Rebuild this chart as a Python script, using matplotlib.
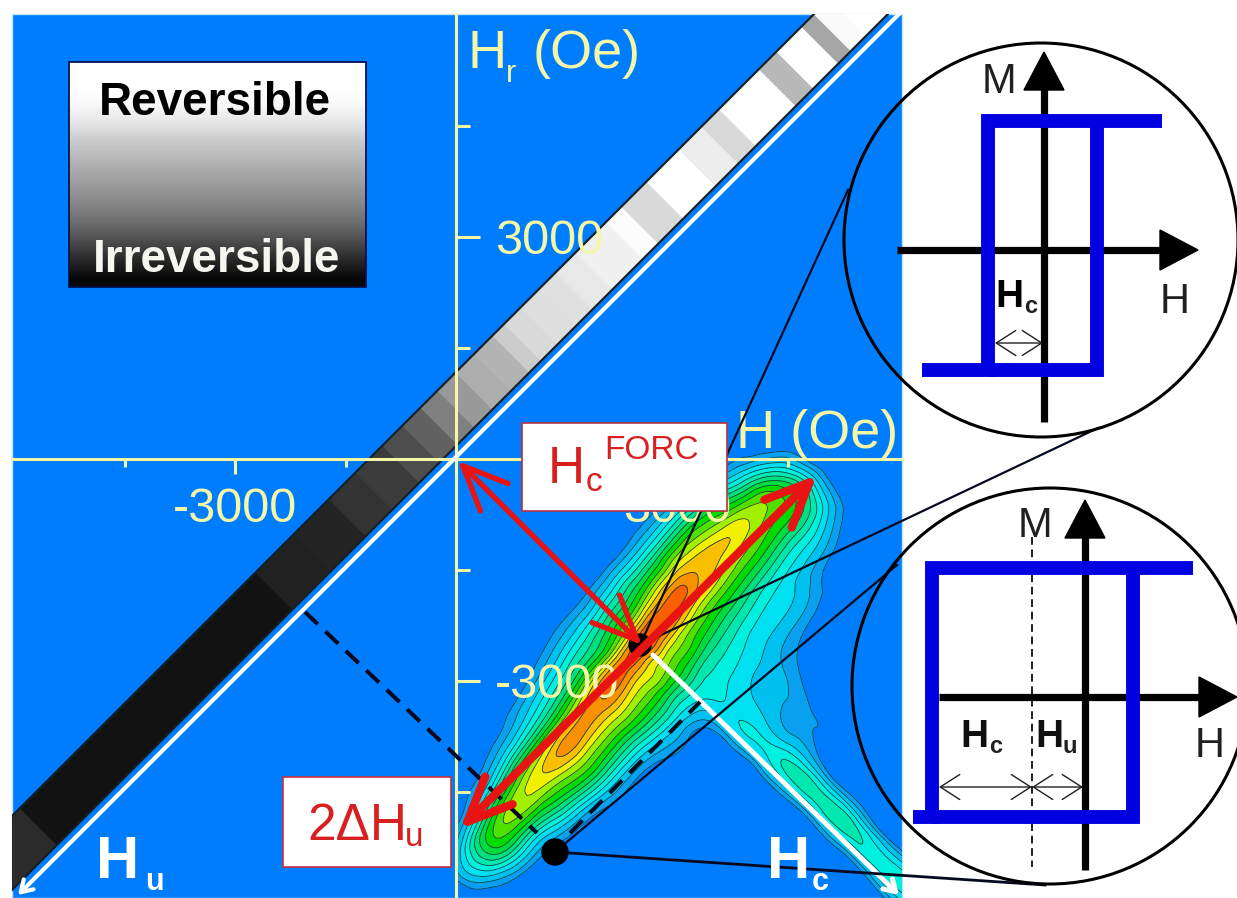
import matplotlib
matplotlib.use('Agg')
import matplotlib.pyplot as plt
import matplotlib.tri as mtri
from matplotlib.patches import Circle, Rectangle
import numpy as np

plt.rcParams['font.family'] = ['Liberation Sans', 'DejaVu Sans']

W, H = 1237, 898

# plot area and axis origin on the picture, in pixels
plot_left, plot_right, plot_top, plot_bottom = 12, 902, 14, 898
origin_x, origin_y = 456, 459
oe_per_px_x = 3000 / 221
oe_per_px_y = 3000 / 222

major_ticks = [-3000, 3000]
minor_ticks = [-4500, -1500, 1500, 4500]

# grey blocks of the reversible ridge, along x - y
strip_edges = [-900, -788, -317, -240, -170, -117, -63, -23, 13, 47, 83, 120, 157, 180, 213,
               250, 283, 323, 384, 415, 465, 530, 575, 610, 650, 690, 725, 775, 800, 830, 900]
strip_greys = [.17, .07, .13, .14, .2, .23, .3, .38, .5, .6, .68, .7, .8, .85, .87,
               .88, .91, .94, .99, .85, 1, .93, .85, 1, 1, .72, 1, .65, .98, 1]
strip_low, strip_high = 828, 902

# FORC distribution, on a grid turned 45 degrees
# a = x + y (across the ridge), b = x - y (along the ridge)
forc_a = [1150, 1180, 1210, 1240, 1265, 1287, 1310, 1335, 1365, 1395, 1425, 1470, 1530, 1600, 1680, 1760, 1840]
forc_b = [-430, -400, -350, -300, -240, -170, -100, -50, -20, 0, 25, 50, 90, 120, 190, 260, 310, 350, 380]
forc_z = [
    [0, 0, 0, 0, 0, 0, 0, 0, 0, 0, 0, 0, 0, 0, 0, 0, 0],
    [0, 0, 0, 0, 0, 0, 1.5, 3, 1.5, 0, 0, 0, 0, 0, 0, 0, 0],
    [0, 0, 0, 0, .2, 2, 6, 8, 5, .8, 0, 0, 0, 0, 0, 0, 0],
    [0, 0, 0, 0, 1.5, 5, 9, 9.5, 5, 1, 0, 0, 0, 0, 0, 0, 0],
    [0, 0, 0, 1, 4, 8, 11, 10, 6.5, 2, 0, 0, 0, 0, 0, 0, 0],
    [0, 0, .5, 3, 6, 10, 13, 11, 7.5, 3, .3, 0, 0, 0, 0, 0, 0],
    [0, .2, 2, 5, 8.5, 12.5, 13, 10.5, 7, 3, .5, 0, 0, 0, 0, 0, 0],
    [0, .5, 3, 6, 9.5, 13.5, 12.5, 10, 7, 3.5, .8, 0, 0, 0, 0, 0, 0],
    [0, .6, 3.5, 7, 10.5, 14, 12, 10, 6.5, 3.5, 1.2, .3, 0, 0, 0, 0, 0],
    [0, .8, 4, 7.5, 11.5, 14.5, 12, 9.5, 6.5, 3.8, 2.5, 2.5, 2.5, 2.5, 2.5, 2.5, 2],
    [0, 1, 4.5, 8, 12.5, 14.5, 11.5, 9, 6, 4, 3.5, 3.5, 4, 5, 5, 4, 3.5],
    [0, 1.2, 5, 9, 13, 14, 11, 8.5, 5.5, 4, 3, 2.5, 2, 1.5, 1.2, 1, .5],
    [0, 1.5, 5.5, 10, 13.5, 13, 10, 7.5, 5, 3.5, 2.5, 1.8, .8, 0, 0, 0, 0],
    [0, 1.8, 6, 10.5, 12.5, 12, 9.5, 7, 4.5, 3, 2, 1, 0, 0, 0, 0, 0],
    [0, 1.5, 6, 9.5, 11.5, 10.5, 8.5, 6, 3.5, 2.5, 1, 0, 0, 0, 0, 0, 0],
    [0, 0, 2.5, 7, 9.5, 9, 7.5, 5, 2.5, .5, 0, 0, 0, 0, 0, 0, 0],
    [0, 0, .2, 3, 5.5, 6.5, 5.5, 3.5, 1, 0, 0, 0, 0, 0, 0, 0, 0],
    [0, 0, 0, 0, .3, .8, .6, .2, 0, 0, 0, 0, 0, 0, 0, 0, 0],
    [0, 0, 0, 0, 0, 0, 0, 0, 0, 0, 0, 0, 0, 0, 0, 0, 0],
]
forc_levels = [.7, 1.5, 2.5, 3.5, 4.5, 5.5, 6.5, 7.5, 8.5, 9.5, 10.5, 11.5, 12.5, 13.5, 16]
forc_colors = ['#0AA0F0', '#00C0F0', '#00E0F0', '#00F0E0', '#00E8B0', '#00E080', '#00DC40',
               '#00DC00', '#50E000', '#A0F000', '#F0F000', '#F8C000', '#F89000', '#F86000']

legend_greys = [1, 1, .97, .9, .8, .72, .65, .58, .5, .4, .28, .15, .03]

BLUE = '#007DFC'
PALE = '#F4F6A8'
RED = '#E81414'
TEXTRED = '#D82020'
LOOP = '#0000E0'

fig = plt.figure(figsize=(W / 100, H / 100), dpi=100, facecolor='white')


def pixel_axes(z):
    a = fig.add_axes([0, 0, 1, 1], zorder=z)
    a.set_xlim(0, W)
    a.set_ylim(H, 0)
    a.axis('off')
    return a


under = pixel_axes(0)
over = pixel_axes(2)

# the Oe axes in the middle, only spines and ticks
ax = fig.add_axes([plot_left / W, (H - plot_bottom) / H, (plot_right - plot_left) / W,
                   (plot_bottom - plot_top) / H], zorder=1)
ax.patch.set_alpha(0)
ax.set_xlim((plot_left - origin_x) * oe_per_px_x, (plot_right - origin_x) * oe_per_px_x)
ax.set_ylim((origin_y - plot_bottom) * oe_per_px_y, (origin_y - plot_top) * oe_per_px_y)
ax.spines['top'].set_visible(False)
ax.spines['left'].set_visible(False)
for s in ['bottom', 'right']:
    ax.spines[s].set_position('zero')
    ax.spines[s].set_color(PALE)
    ax.spines[s].set_linewidth(2.2)
ax.yaxis.tick_right()
ax.set_xticks(major_ticks)
ax.set_xticks(minor_ticks, minor=True)
ax.set_yticks(major_ticks)
ax.set_yticks(minor_ticks, minor=True)
ax.set_xticklabels([str(v) for v in major_ticks])
ax.set_yticklabels([str(v) for v in major_ticks])
ax.tick_params(axis='x', which='major', length=11, width=2.2, color=PALE, labelcolor=PALE, labelsize=35, pad=9)
ax.tick_params(axis='x', which='minor', length=5.5, width=2.2, color=PALE)
ax.tick_params(axis='y', which='major', length=17, width=2.2, color=PALE, labelcolor=PALE, labelsize=35, pad=11)
ax.tick_params(axis='y', which='minor', length=10, width=2.2, color=PALE)

# background and grey ridge
under.add_patch(Rectangle((plot_left, plot_top), plot_right - plot_left, plot_bottom - plot_top,
                          facecolor=BLUE, edgecolor='#BFE4F8', lw=1))
clip = Rectangle((plot_left, plot_top), plot_right - plot_left, plot_bottom - plot_top, transform=under.transData)
for i, grey in enumerate(strip_greys):
    b0, b1 = strip_edges[i], strip_edges[i + 1]
    xs = [(strip_low + b0) / 2, (strip_low + b1) / 2, (strip_high + b1) / 2, (strip_high + b0) / 2]
    ys = [(strip_low - b0) / 2, (strip_low - b1) / 2, (strip_high - b1) / 2, (strip_high - b0) / 2]
    p, = under.fill(xs, ys, color=str(grey), lw=.5)
    p.set_clip_path(clip)
for edge in (strip_low, strip_high):
    l, = under.plot([(edge + strip_edges[0]) / 2, (edge + strip_edges[-1]) / 2],
                    [(edge - strip_edges[0]) / 2, (edge - strip_edges[-1]) / 2], color='#14202C', lw=1.6)
    l.set_clip_path(clip)

# FORC contours, rounded off by matplotlib's own triangulation refiner
aa, bb = np.meshgrid(forc_a, forc_b)
X = (aa + bb) / 2
Y = (aa - bb) / 2
tri = mtri.Triangulation(X.ravel(), Y.ravel())
tri_fine, z_fine = mtri.UniformTriRefiner(tri).refine_field(np.array(forc_z, dtype=float).ravel(), subdiv=3)
clip2 = Rectangle((origin_x, plot_top), plot_right - origin_x, plot_bottom - plot_top, transform=under.transData)
cf = under.tricontourf(tri_fine, z_fine, levels=forc_levels, colors=forc_colors)
cl = under.tricontour(tri_fine, z_fine, levels=forc_levels[:-1], colors='#0C3A40', linewidths=.55)
cf.set_clip_path(clip2)
cl.set_clip_path(clip2)
under.set_xlim(0, W)
under.set_ylim(H, 0)

# white lines
over.annotate('', xy=(18, 895), xytext=(900, 13), annotation_clip=False,
              arrowprops=dict(arrowstyle='->,head_length=.8,head_width=.5', color='white', lw=3, shrinkA=0, shrinkB=0, mutation_scale=10))
over.annotate('', xy=(899, 895), xytext=(653, 655), annotation_clip=False,
              arrowprops=dict(arrowstyle='->,head_length=.8,head_width=.5', color='white', lw=3.6, shrinkA=0, shrinkB=0, mutation_scale=10))

# axis titles
over.text(468, 68, 'H', color=PALE, fontsize=39)
over.text(506, 82, 'r', color=PALE, fontsize=22)
over.text(533, 68, '(Oe)', color=PALE, fontsize=39)
over.text(736, 448, 'H (Oe)', color=PALE, fontsize=39)

# legend box
over.imshow(np.array(legend_greys).reshape(-1, 1), extent=(69, 366, 287, 62), aspect='auto', cmap='gray',
            vmin=0, vmax=1, interpolation='bilinear', zorder=3)
over.set_xlim(0, W)
over.set_ylim(H, 0)
over.add_patch(Rectangle((69, 62), 297, 225, fill=False, edgecolor='#001050', lw=1.3, zorder=4))
over.text(215, 115, 'Reversible', color='black', fontsize=33, fontweight='bold', ha='center', zorder=5)
over.text(217, 272, 'Irreversible', color='#F6F6F0', fontsize=33, fontweight='bold', ha='center', zorder=5)

# dashed guides and the black lines to the insets
dash = (0, (4.4, 2.6))
over.plot([305, 537], [612, 833], color='#050A20', lw=2.9, ls=dash, zorder=3)
over.plot([570, 700], [833, 702], color='#050A20', lw=2.9, ls=dash, zorder=3)
over.plot([640, 848], [645, 190], color='#050A20', lw=1.6, zorder=3, clip_on=False)
over.plot([640, 1098], [645, 428], color='#050A20', lw=1.6, zorder=3, clip_on=False)
over.plot([555, 897], [852, 565], color='#050A20', lw=1.6, zorder=3, clip_on=False)
over.plot([555, 1045], [852, 885], color='#050A20', lw=2, zorder=3, clip_on=False)
over.add_patch(Circle((555, 852), 13, color='black', zorder=4))
over.add_patch(Circle((640, 645), 11, color='black', zorder=4))

# red arrows
over.annotate('', xy=(642, 645), xytext=(458, 461), zorder=6,
              arrowprops=dict(arrowstyle='<->,head_length=3.2,head_width=1.4', color=RED, lw=3.9, shrinkA=0, shrinkB=0, mutation_scale=10))
over.annotate('', xy=(817, 475), xytext=(460, 829), zorder=6,
              arrowprops=dict(arrowstyle='<->,head_length=3.2,head_width=1.4', color=RED, lw=6, shrinkA=0, shrinkB=0, mutation_scale=10))

# label boxes
over.add_patch(Rectangle((522, 423), 205, 88, facecolor='white', edgecolor='#B83040', lw=1.2, zorder=7))
over.text(548, 483, 'H', color=TEXTRED, fontsize=37, zorder=8)
over.text(586, 491, 'c', color=TEXTRED, fontsize=24, zorder=8)
over.text(604, 459, 'FORC', color=TEXTRED, fontsize=24, zorder=8)
over.add_patch(Rectangle((283, 777), 168, 90, facecolor='white', edgecolor='#C83038', lw=1.2, zorder=7))
over.text(307, 840, '2\u0394H', color=TEXTRED, fontsize=37, zorder=8)
over.text(405, 846, 'u', color=TEXTRED, fontsize=24, zorder=8)

# big white labels
over.text(96, 878, 'H', color='white', fontsize=43, fontweight='bold', zorder=5)
over.text(145, 890, 'u', color='white', fontsize=22, fontweight='bold', zorder=5)
over.text(767, 878, 'H', color='white', fontsize=43, fontweight='bold', zorder=5)
over.text(812, 890, 'c', color='white', fontsize=22, fontweight='bold', zorder=5)


def inset_axes_lines(x0, y0, left, right, bottom, top, head=38, half=20):
    # black cross with filled heads
    over.plot([x0, x0], [bottom, top + head - 2], color='black', lw=5.2, solid_capstyle='butt', zorder=9, clip_on=False)
    over.plot([left, right - head + 2], [y0, y0], color='black', lw=5.2, solid_capstyle='butt', zorder=9, clip_on=False)
    over.fill([x0 - half, x0 + half, x0], [top + head, top + head, top], color='black', zorder=9, clip_on=False)
    over.fill([right - head, right - head, right], [y0 - half, y0 + half, y0], color='black', zorder=9, clip_on=False)


def loop(xl, xr, yt, yb, top_end, bot_end):
    over.plot([top_end, xl, xl, bot_end], [yt, yt, yb, yb], color=LOOP, lw=10, solid_joinstyle='miter',
              solid_capstyle='butt', zorder=10, clip_on=False)
    over.plot([xr, xr, xl], [yt, yb, yb], color=LOOP, lw=10, solid_joinstyle='miter',
              solid_capstyle='butt', zorder=10, clip_on=False)


def thin_arrow(x0, x1, y):
    over.annotate('', xy=(x1, y), xytext=(x0, y), annotation_clip=False, zorder=11,
                  arrowprops=dict(arrowstyle='<->,head_length=1.4,head_width=.9', color='#202020', lw=1,
                                  shrinkA=0, shrinkB=0, mutation_scale=10))


# top inset
over.add_patch(Circle((1041, 240), 197, fill=False, edgecolor='black', lw=2.2, zorder=9, clip_on=False))
inset_axes_lines(1044, 250, 897, 1198, 422, 52)
loop(988, 1097, 121, 370, 1162, 922)
over.text(982, 93, 'M', color='#202020', fontsize=30, zorder=11)
over.text(1160, 313, 'H', color='#202020', fontsize=30, zorder=11)
over.text(995, 307, 'H', color='black', fontsize=28, fontweight='bold', zorder=11)
over.text(1024, 313, 'c', color='#202020', fontsize=17, fontweight='bold', zorder=11)
thin_arrow(995, 1043, 343)

# bottom inset
over.add_patch(Circle((1050, 686), 198, fill=False, edgecolor='black', lw=2.2, zorder=9, clip_on=False))
over.plot([1032, 1032], [537, 867], color='#202020', lw=1.4, ls=(0, (4, 2.4)), zorder=9, clip_on=False)
inset_axes_lines(1085, 697, 939, 1237, 870, 500)
loop(932, 1133, 568, 817, 1193, 913)
over.text(1018, 537, 'M', color='#202020', fontsize=30, zorder=11)
over.text(1195, 757, 'H', color='#202020', fontsize=30, zorder=11)
over.text(960, 747, 'H', color='#101010', fontsize=28, fontweight='bold', zorder=11)
over.text(989, 753, 'c', color='#202020', fontsize=17, fontweight='bold', zorder=11)
over.text(1035, 747, 'H', color='#101010', fontsize=28, fontweight='bold', zorder=11)
over.text(1062, 753, 'u', color='#202020', fontsize=17, fontweight='bold', zorder=11)
thin_arrow(939, 1032, 787)
thin_arrow(1032, 1083, 787)

fig.savefig('out.png', dpi=100)
